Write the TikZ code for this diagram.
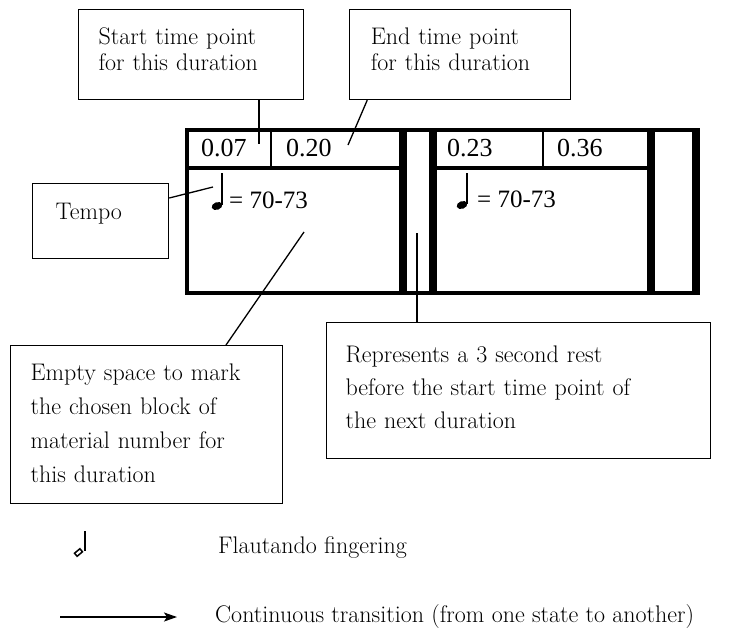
\documentclass[tikz,border=0pt]{standalone}
\usepackage{fontspec}
\newfontfamily\timesfont{Liberation Serif}
\usetikzlibrary{arrows.meta, positioning, calc}

\begin{document}
\begin{tikzpicture}[
  x=1pt, y=-1pt,
  font=\fontsize{24}{26}\selectfont,
  >={Stealth[length=13pt,width=9pt,inset=3pt]},
  notebox/.style={rectangle, draw, line width=1.2pt, anchor=north west,
        align=left, inner ysep=0pt, text height=20pt},
  topnote/.style={notebox, minimum height=90pt, text depth=40pt,
        font=\fontsize{24}{26}\selectfont},
  lownote/.style={notebox, font=\fontsize{24}{34}\selectfont},
  timetext/.style={font=\timesfont\fontsize{26}{26}\selectfont,
        anchor=base west, inner sep=0pt},
  tempotext/.style={font=\timesfont\fontsize{25}{25}\selectfont,
        anchor=base west, inner sep=0pt},
  legendtext/.style={anchor=base west, inner sep=0pt},
  framerule/.style={line width=4pt},
  barrule/.style={line width=7.5pt},
  thinrule/.style={line width=1.6pt},
  link/.style={line width=1.3pt},
]
\useasboundingbox (0,0) rectangle (751,627);

% --- Table: two durations with a rest column between ---
\draw[framerule] (187,130) rectangle (696,293);
\foreach \bx in {403,433,651,696}{
  \draw[barrule] (\bx,128) -- (\bx,295);
}
\draw[framerule] (187,168) -- (403,168);
\draw[framerule] (433,168) -- (651,168);
\draw[thinrule] (271,130) -- (271,168);
\draw[thinrule] (543,130) -- (543,168);

% --- Time points ---
\node[timetext] (t1) at (201,156) {0.07};
\node[timetext] (t2) at (286,156) {0.20};
\node[timetext] (t3) at (447,156) {0.23};
\node[timetext] (t4) at (557,156) {0.36};

% --- Tempo marks ---
\foreach \nx/\ny in {217/206, 462/205}{
  \fill[rotate around={20:(\nx,\ny)}] (\nx,\ny) ellipse [x radius=5.5pt, y radius=3.8pt];
  \draw[line width=1.2pt] (\nx+5,\ny-1) -- (\nx+5,173);
}
\node[tempotext] (tm1) at (229,208) {= 70-73};
\node[tempotext] (tm2) at (477,207) {= 70-73};

% --- Annotation boxes ---
\node[topnote, inner xsep=20pt, text width=185pt] (startbox) at (78,9)
  {Start time point\\for this duration};
\node[topnote, inner xsep=21pt, text width=179pt, right=45pt of startbox] (endbox)
  {End time point\\for this duration};
\node[notebox, minimum height=75pt, text depth=20pt, text height=17pt,
      inner xsep=23pt, text width=90pt] (tempobox) at (32,183) {Tempo};
\node[lownote, minimum height=158pt, text depth=108pt,
      inner xsep=20pt, text width=232pt] (emptybox) at (10,345)
  {Empty space to mark\\the chosen block of\\material number for\\this duration};
\node[lownote, font=\fontsize{24}{33}\selectfont, minimum height=136pt,
      text depth=76pt, inner xsep=19pt, text width=346pt] (restbox) at (326,322)
  {Represents a 3 second rest\\before the start time point of\\the next duration};

% --- Pointers into the table ---
\coordinate (startpt) at (259,144);
\coordinate (endpt)   at (348,145);
\coordinate (tempopt) at (213,187);
\coordinate (emptypt) at (304,232);
\coordinate (restpt)  at (417,233);
\draw[link] (startpt |- startbox.south) -- (startpt);
\draw[link] ($(endbox.south west)+(18,0)$) -- (endpt);
\draw[link] ($(tempobox.north east)+(0,15)$) -- (tempopt);
\draw[link] ($(emptybox.north west)+(216,0)$) -- (emptypt);
\draw[link] (restpt |- restbox.north) -- (restpt);

% --- Legend ---
\draw[line width=1.8pt] (85,531) -- (85,551);
\draw[line width=1.5pt, rotate around={40:(78.5,552.5)}] (75,550.5) rectangle (82,554.5);
\node[legendtext] (flauttext) at (218,553) {Flautando fingering};

\coordinate (arrowtail) at (60,617);
\coordinate (arrowtip)  at (177,617);
\draw[->, line width=1.8pt] (arrowtail) -- (arrowtip);
\node[legendtext] (conttext) at (215,622) {Continuous transition (from one state to another)};

\end{tikzpicture}
\end{document}
